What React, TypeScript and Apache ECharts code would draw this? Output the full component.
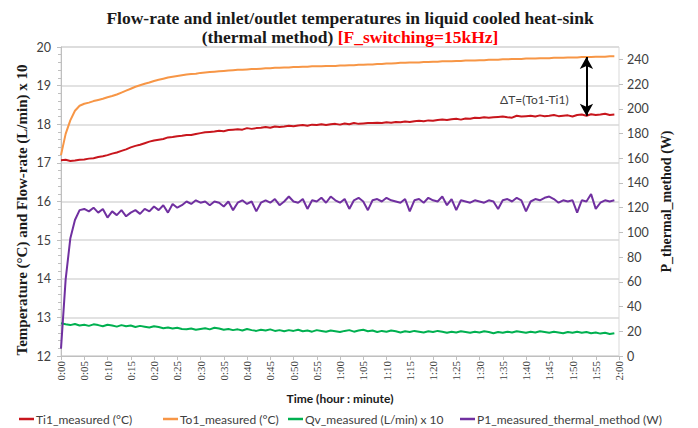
import React, { useEffect, useRef } from "react";
import * as echarts from "echarts";

// Sampling times in minutes (one reading per minute)
const timeMinutes = [
  0, 1, 2, 3, 4, 5, 6, 7, 8, 9, 10, 11, 12, 13, 14, 15, 16, 17, 18, 19,
  20, 21, 22, 23, 24, 25, 26, 27, 28, 29, 30, 31, 32, 33, 34, 35, 36, 37, 38, 39,
  40, 41, 42, 43, 44, 45, 46, 47, 48, 49, 50, 51, 52, 53, 54, 55, 56, 57, 58, 59,
  60, 61, 62, 63, 64, 65, 66, 67, 68, 69, 70, 71, 72, 73, 74, 75, 76, 77, 78, 79,
  80, 81, 82, 83, 84, 85, 86, 87, 88, 89, 90, 91, 92, 93, 94, 95, 96, 97, 98, 99,
  100, 101, 102, 103, 104, 105, 106, 107, 108, 109, 110, 111, 112, 113, 114, 115, 116, 117, 118, 119,
];

const ti1Measured = [
  17.07, 17.08, 17.05, 17.06, 17.08, 17.09, 17.11, 17.12, 17.15, 17.17,
  17.2, 17.24, 17.27, 17.31, 17.35, 17.4, 17.44, 17.47, 17.51, 17.55,
  17.58, 17.6, 17.62, 17.66, 17.67, 17.69, 17.7, 17.72, 17.72, 17.75,
  17.77, 17.79, 17.8, 17.81, 17.83, 17.82, 17.85, 17.86, 17.87, 17.86,
  17.9, 17.88, 17.9, 17.91, 17.93, 17.91, 17.94, 17.93, 17.94, 17.96,
  17.95, 17.97, 17.98, 17.96, 17.99, 17.98, 18.0, 17.98, 18.0, 18.01,
  17.99, 18.02, 18.0, 18.03, 18.01, 18.02, 18.03, 18.03, 18.04, 18.03,
  18.05, 18.04, 18.06, 18.05, 18.07, 18.06, 18.08, 18.09, 18.08, 18.1,
  18.09, 18.11, 18.12, 18.11, 18.13, 18.14, 18.12, 18.15, 18.14, 18.17,
  18.16, 18.18, 18.17, 18.18, 18.19, 18.2, 18.18, 18.17, 18.22, 18.2,
  18.21, 18.22, 18.2, 18.23, 18.21, 18.22, 18.24, 18.21, 18.22, 18.23,
  18.2, 18.24, 18.25, 18.22, 18.26, 18.24, 18.25, 18.27, 18.24, 18.25,
];

const to1Measured = [
  17.2, 17.75, 18.1, 18.35, 18.48, 18.53, 18.56, 18.6, 18.63, 18.66,
  18.7, 18.73, 18.77, 18.82, 18.87, 18.92, 18.97, 19.01, 19.05, 19.08,
  19.12, 19.15, 19.18, 19.21, 19.23, 19.25, 19.27, 19.29, 19.3, 19.31,
  19.33, 19.34, 19.35, 19.36, 19.37, 19.38, 19.39, 19.4, 19.41, 19.41,
  19.42, 19.43, 19.43, 19.44, 19.45, 19.45, 19.46, 19.46, 19.47, 19.47,
  19.48, 19.48, 19.49, 19.49, 19.5, 19.5, 19.5, 19.51, 19.51, 19.51,
  19.52, 19.52, 19.53, 19.53, 19.54, 19.54, 19.55, 19.55, 19.56, 19.56,
  19.57, 19.57, 19.58, 19.59, 19.59, 19.6, 19.6, 19.6, 19.61, 19.61,
  19.62, 19.62, 19.63, 19.63, 19.63, 19.64, 19.64, 19.65, 19.65, 19.65,
  19.66, 19.66, 19.67, 19.67, 19.67, 19.68, 19.68, 19.69, 19.69, 19.69,
  19.7, 19.7, 19.7, 19.71, 19.71, 19.71, 19.72, 19.72, 19.72, 19.73,
  19.73, 19.73, 19.74, 19.74, 19.74, 19.75, 19.75, 19.75, 19.76, 19.76,
];

const qvMeasuredX10 = [
  12.85, 12.82, 12.8, 12.83, 12.79, 12.81, 12.78, 12.82, 12.8, 12.77,
  12.81, 12.79, 12.76, 12.8, 12.77, 12.79, 12.75, 12.78, 12.76, 12.74,
  12.77, 12.75, 12.72, 12.74, 12.71, 12.73, 12.7, 12.69, 12.71, 12.68,
  12.7, 12.72, 12.69, 12.73, 12.71, 12.68, 12.7, 12.67, 12.69, 12.66,
  12.7, 12.67, 12.65, 12.68, 12.66, 12.69, 12.65, 12.67, 12.64, 12.67,
  12.65, 12.68, 12.64, 12.66, 12.63, 12.67, 12.65, 12.63, 12.66, 12.64,
  12.62, 12.65, 12.67, 12.63, 12.66, 12.68, 12.64, 12.66, 12.62, 12.65,
  12.63, 12.66, 12.64, 12.61, 12.64, 12.62, 12.65, 12.63, 12.61, 12.64,
  12.62, 12.65, 12.63, 12.6, 12.63, 12.61, 12.64, 12.62, 12.6, 12.63,
  12.61, 12.64, 12.62, 12.59, 12.62, 12.6, 12.63, 12.61, 12.64, 12.62,
  12.6, 12.63, 12.61, 12.64, 12.62, 12.6, 12.63, 12.61, 12.59, 12.62,
  12.6, 12.63, 12.6, 12.62, 12.59, 12.61, 12.58, 12.6, 12.57, 12.59,
];

const p1ThermalMethod = [
  6, 62, 95, 110, 118, 119, 117, 120, 116, 119,
  112, 117, 114, 118, 113, 116, 118, 115, 119, 117,
  121, 118, 122, 116, 123, 120, 122, 125, 123, 126,
  124, 125, 122, 125, 124, 121, 125, 118, 124, 126,
  123, 125, 117, 124, 126, 124, 127, 122, 125, 129,
  125, 124, 127, 119, 126, 125, 128, 124, 129, 126,
  124, 127, 119, 126, 128, 125, 118, 126, 127, 125,
  128, 126, 125, 124, 127, 117, 126, 127, 124, 128,
  126, 125, 129, 122, 127, 118, 126, 125, 124, 126,
  125, 124, 126, 125, 119, 126, 127, 125, 128, 126,
  117, 125, 127, 126, 128, 129, 127, 124, 126, 125,
  126, 116, 126, 125, 131, 119, 124, 126, 125, 126,
];

const seriesNames = [
  "Ti1_measured (°C)",
  "To1_measured (°C)",
  "Qv_measured (L/min) x 10",
  "P1_measured_thermal_method (W)",
];

const deltaTAtMinute = 113;

const SANS = "Lato, 'Liberation Sans', sans-serif";
const SERIF = "'Liberation Serif', 'DejaVu Serif', serif";

function pairs(vals: number[]) {
  return vals.map((v, i) => [timeMinutes[i], v]);
}

function fmtTime(v: number) {
  const h = Math.floor(v / 60);
  const m = Math.round(v % 60);
  return `${h}:${m < 10 ? "0" + m : m}`;
}

export default function App() {
  const ref = useRef<HTMLDivElement>(null);

  useEffect(() => {
    if (!ref.current) return;
    const chart = echarts.init(ref.current, undefined, { renderer: "svg" });
    const idx = timeMinutes.indexOf(deltaTAtMinute);

    const legendBase = {
      top: 408,
      icon: "rect",
      itemWidth: 15,
      itemHeight: 2.5,
      itemGap: 0,
      textStyle: { fontFamily: SANS, fontSize: 12, color: "#404040", padding: [0, 0, 0, -3] },
    };

    chart.setOption({
      animation: false,
      backgroundColor: "#ffffff",
      title: {
        left: 345,
        textAlign: "center",
        top: 3,
        text:
          "Flow-rate and inlet/outlet temperatures in liquid cooled heat-sink\n(thermal method) {r|[F_switching=15kHz]}",
        textStyle: {
          fontFamily: SERIF,
          fontWeight: "bold",
          fontSize: 17.5,
          color: "#1a1a1a",
          lineHeight: 19,
          rich: {
            r: {
              fontFamily: SERIF,
              fontWeight: "bold",
              fontSize: 17.5,
              color: "#ff0000",
              lineHeight: 19,
            },
          },
        },
      },
      legend: [
        { ...legendBase, left: 14, data: [seriesNames[0]] },
        { ...legendBase, left: 158, data: [seriesNames[1]] },
        { ...legendBase, left: 283, data: [seriesNames[2]] },
        { ...legendBase, left: 455, data: [seriesNames[3]] },
      ],
      grid: {
        left: 61,
        right: 79,
        top: 47,
        bottom: 72,
        show: true,
        borderColor: "#D9D9D9",
        borderWidth: 1,
      },
      xAxis: {
        type: "value",
        min: 0,
        max: 120,
        interval: 5,
        name: "Time (hour : minute)",
        nameLocation: "middle",
        nameGap: 36,
        nameTextStyle: { fontFamily: SANS, fontWeight: "bold", fontSize: 12, color: "#1a1a1a" },
        axisLine: { lineStyle: { color: "#BFBFBF" } },
        axisTick: { show: true, length: 4, lineStyle: { color: "#BFBFBF" } },
        splitLine: { show: false },
        axisLabel: {
          rotate: 90,
          fontFamily: SERIF,
          fontSize: 11,
          color: "#404040",
          margin: 5,
          formatter: (v: number) => fmtTime(v),
        },
      },
      yAxis: [
        {
          type: "value",
          min: 12,
          max: 20,
          interval: 1,
          position: "left",
          axisLine: { show: true, lineStyle: { color: "#BFBFBF" } },
          axisTick: { show: true, length: 4, lineStyle: { color: "#BFBFBF" } },
          minorTick: { show: true, splitNumber: 5, length: 3, lineStyle: { color: "#BFBFBF" } },
          splitLine: { show: true, lineStyle: { color: "#D9D9D9", width: 1.5 } },
          axisLabel: { fontFamily: SANS, fontSize: 12.5, color: "#404040", margin: 10 },
        },
        {
          type: "value",
          min: 0,
          max: 250,
          interval: 20,
          position: "right",
          name: "P_thermal_method (W)",
          nameLocation: "middle",
          nameRotate: 90,
          nameGap: 39,
          nameTextStyle: { fontFamily: SERIF, fontWeight: "bold", fontSize: 14, color: "#1a1a1a" },
          axisLine: { show: false },
          axisTick: { show: true, length: 4, lineStyle: { color: "#BFBFBF" } },
          splitLine: { show: false },
          axisLabel: {
            fontFamily: SANS,
            fontSize: 12.5,
            color: "#404040",
            margin: 8,
            showMaxLabel: false,
          },
        },
      ],
      series: [
        {
          name: seriesNames[0],
          type: "line",
          yAxisIndex: 0,
          symbol: "none",
          data: pairs(ti1Measured),
          lineStyle: { color: "#C8161D", width: 2 },
          itemStyle: { color: "#C8161D" },
        },
        {
          name: seriesNames[1],
          type: "line",
          yAxisIndex: 0,
          symbol: "none",
          data: pairs(to1Measured),
          lineStyle: { color: "#F79646", width: 2 },
          itemStyle: { color: "#F79646" },
          markLine: {
            silent: true,
            symbol: ["arrow", "arrow"],
            symbolSize: [10, 12],
            label: { show: false },
            lineStyle: { color: "#000000", width: 2, type: "solid" },
            data: [
              [
                { coord: [deltaTAtMinute, to1Measured[idx]] },
                { coord: [deltaTAtMinute, ti1Measured[idx]] },
              ],
            ],
          },
        },
        {
          name: seriesNames[2],
          type: "line",
          yAxisIndex: 0,
          symbol: "none",
          data: pairs(qvMeasuredX10),
          lineStyle: { color: "#00B050", width: 2 },
          itemStyle: { color: "#00B050" },
        },
        {
          name: seriesNames[3],
          type: "line",
          yAxisIndex: 1,
          symbol: "none",
          data: pairs(p1ThermalMethod),
          lineStyle: { color: "#7030A0", width: 2 },
          itemStyle: { color: "#7030A0" },
        },
      ],
      graphic: [
        {
          type: "text",
          x: 22,
          y: 210,
          rotation: Math.PI / 2,
          style: {
            text: "Temperature (°C) and Flow-rate (L/min) x 10",
            fontFamily: SERIF,
            fontWeight: "bold",
            fontSize: 15,
            fill: "#1a1a1a",
            align: "center",
            verticalAlign: "middle",
          },
        },
        {
          type: "text",
          left: 500,
          top: 93,
          style: {
            text: "ΔT=(To1-Ti1)",
            fontFamily: SANS,
            fontSize: 12,
            fill: "#404040",
          },
        },
      ],
    });

    return () => chart.dispose();
  }, []);

  return (
    <div
      ref={ref}
      style={{ position: "absolute", left: 0, top: 0, width: 698, height: 428 }}
    />
  );
}
